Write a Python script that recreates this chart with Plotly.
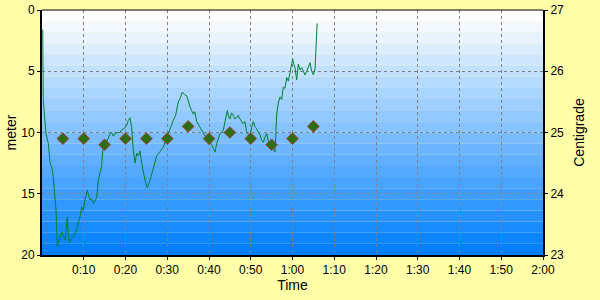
import plotly.graph_objects as go

# Depth profile: time (minutes) vs depth (meter)
depth_time = [0.17, 0.31, 0.96, 1.51, 1.92, 2.32, 2.71, 3.05, 3.35, 3.66, 4.0, 4.31, 4.7, 5.10, 5.51, 5.8, 6.06, 6.3, 6.54, 7.0, 7.50, 7.9,
              8.31, 8.7, 9.10, 9.51, 9.9, 10.30, 10.85, 11.2, 11.50, 11.9, 12.29, 12.7, 13.10, 13.49, 14.06, 14.3, 14.54,
              15.09, 15.6, 16.29, 16.69, 17.1, 17.49, 18.04, 18.6, 19.09, 19.88, 20.3, 20.67, 21.08, 21.48, 21.87, 22.28,
              22.68, 23.1, 23.47, 23.88, 24.3, 24.67, 25.22, 25.87, 26.7, 27.47, 28.2, 29.05, 29.87, 30.25, 30.8, 31.45,
              32.0, 32.65, 33.1, 33.60, 34.1, 34.66, 35.45, 36.24, 36.6, 37.05, 37.84, 38.63, 39.45, 39.8, 40.24, 40.6,
              41.03, 41.44, 41.84, 42.2, 42.63, 43.43, 44.07, 44.38, 44.7, 45.03, 45.4, 45.82, 46.2, 46.63, 47.0, 47.43,
              48.22, 48.6, 49.03, 49.82, 50.2, 50.62, 51.0, 51.42, 51.8, 52.22, 52.6, 53.01, 53.4, 53.82, 54.2, 54.61,
              55.0, 55.40, 55.81, 56.22, 56.6, 57.0, 57.4, 57.8, 58.2, 58.6, 59.0, 59.4, 59.7, 60.05, 60.3, 60.6, 61.0,
              61.4, 61.8, 62.2, 62.6, 63.0, 63.4, 63.8, 64.2, 64.6, 65.0, 65.4, 65.6, 65.9]
depth_m = [1.6, 7.4, 10.1, 10.9, 12.5, 12.8, 13.7, 15.2, 16.3, 19.3, 18.9, 18.5, 18.1, 18.4, 18.8, 17.8, 16.9, 18.2, 19.0, 18.7, 18.5, 18.2,
           17.9, 17.3, 16.9, 16.1, 16.3, 15.5, 14.7, 15.2, 15.5, 15.4, 15.8, 15.6, 15.3, 13.9, 13.1, 12.7, 11.5,
           10.9, 10.7, 10.1, 10.0, 10.3, 10.1, 10.0, 10.0, 9.8, 9.6, 9.4, 9.0, 8.8, 9.6, 11.5, 12.5,
           11.7, 11.9, 11.5, 12.5, 13.2, 13.9, 14.5, 13.9, 12.9, 11.9, 11.6, 11.2, 10.4, 10.0, 9.6, 9.0,
           8.6, 7.5, 7.2, 6.7, 6.9, 7.0, 7.9, 8.5, 8.3, 9.1, 9.6, 10.1, 10.5, 10.3, 10.8, 11.0,
           11.3, 11.6, 10.9, 10.6, 10.1, 9.8, 8.5, 8.2, 8.7, 8.9, 8.4, 8.6, 8.9, 8.8, 8.6, 8.9,
           9.3, 9.1, 10.0, 10.3, 9.6, 9.1, 9.5, 9.7, 10.0, 10.2, 10.6, 10.8, 10.4, 10.1, 10.7, 11.2,
           11.0, 11.4, 11.6, 8.5, 7.6, 7.1, 7.3, 6.3, 6.4, 5.5, 5.8, 5.1, 4.6, 4.0, 4.4, 4.7, 5.7,
           4.4, 4.9, 4.7, 5.0, 5.3, 5.0, 4.7, 4.3, 5.0, 5.3, 4.8, 3.3, 1.1]

# Temperature samples: time (minutes) vs Centigrade
temp_time = [5, 10, 15, 20, 25, 30, 35, 40, 45, 50, 55, 60, 65]
temp_c = [24.9, 24.9, 24.8, 24.9, 24.9, 24.9, 25.1, 24.9, 25.0, 24.9, 24.8, 24.9, 25.1]

x_tickvals = [10, 20, 30, 40, 50, 60, 70, 80, 90, 100, 110, 120]
x_ticktext = ["0:10", "0:20", "0:30", "0:40", "0:50", "1:00", "1:10", "1:20", "1:30", "1:40", "1:50", "2:00"]
depth_ticks = [0, 5, 10, 15, 20]
temp_ticks = [23, 24, 25, 26, 27]

FONT = "Liberation Sans, Arial, sans-serif"

fig = go.Figure()
fig.add_trace(go.Scatter(x=depth_time, y=depth_m, mode="lines",
                         line=dict(color="#008030", width=1), yaxis="y", showlegend=False))
fig.add_trace(go.Scatter(x=temp_time, y=temp_c, mode="markers",
                         marker=dict(symbol="diamond", size=9, color="#2F6E10",
                                     line=dict(color="#A04040", width=1)),
                         yaxis="y2", showlegend=False))

# stepped gradient background (white -> blue)
shapes = []
n = 22
for i in range(n):
    t = i / (n - 1)
    r = int(round(255 * (1 - t)))
    g = int(round(255 - (255 - 128) * t))
    col = f"rgb({r},{g},255)"
    shapes.append(dict(type="rect", xref="x domain", yref="y domain",
                       x0=0, x1=1, y0=1 - (i + 1) / n, y1=1 - i / n,
                       fillcolor=col, line=dict(width=0), layer="below"))
# thin top border
shapes.append(dict(type="line", xref="x domain", yref="y domain", x0=0, x1=1, y0=1, y1=1,
                   line=dict(color="black", width=1)))

grid = dict(showgrid=True, gridcolor="#808080", gridwidth=1, griddash="3px,3px")

fig.update_layout(
    width=600, height=300,
    margin=dict(l=42, r=57, t=10, b=45),
    paper_bgcolor="#FFFFAA", plot_bgcolor="rgba(0,0,0,0)",
    font=dict(family=FONT, size=12, color="black"),
    shapes=shapes,
    xaxis=dict(range=[0, 120], tickvals=x_tickvals, ticktext=x_ticktext, automargin=False,
               ticks="outside", ticklen=3, tickcolor="black",
               showline=True, linecolor="black", linewidth=2,
               title=dict(text="Time", standoff=2), zeroline=False, **grid),
    yaxis=dict(range=[20, 0], tickvals=depth_ticks, ticks="outside", ticklen=3, tickcolor="black",
               showline=True, linecolor="black", linewidth=2, automargin=False,
               title=dict(text="meter", standoff=1), zeroline=False, **grid),
    yaxis2=dict(range=[23, 27], tickvals=temp_ticks, overlaying="y", side="right",
                ticks="outside", ticklen=3, tickcolor="black", automargin=False,
                showline=True, linecolor="black", linewidth=2,
                title=dict(text="Centigrade", standoff=11), showgrid=False, zeroline=False),
)

fig.write_html("out.html")
